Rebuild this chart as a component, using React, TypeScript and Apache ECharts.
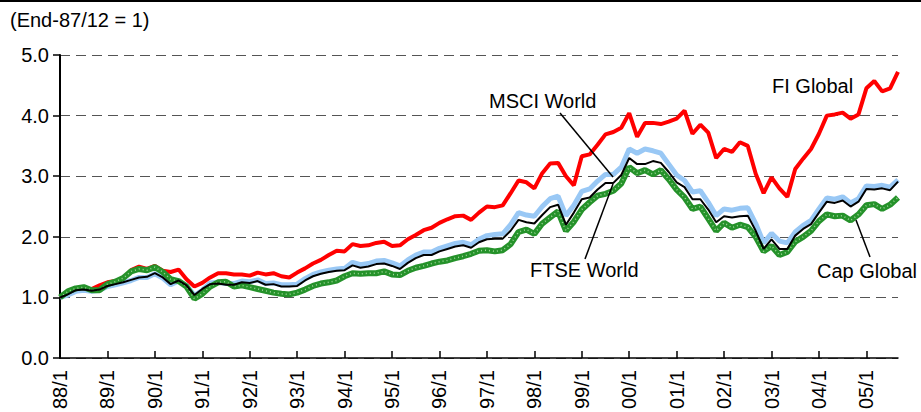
import React, { useEffect, useRef } from 'react';
import * as echarts from 'echarts';

// Bimonthly observations, 88/1 .. 05/9 (End-87/12 = 1)
const categories: string[] = [];
for (let i = 0; i < 107; i++) {
  const m = i * 2;
  const y = (88 + Math.floor(m / 12)) % 100;
  categories.push(`${String(y).padStart(2, '0')}/${(m % 12) + 1}`);
}

const ftseWorld = [
  1.00, 1.05, 1.12, 1.13, 1.11, 1.13, 1.19, 1.22, 1.25, 1.29, 1.33, 1.34, 1.40, 1.33, 1.22, 1.28, 1.20, 1.04, 1.14,
  1.22, 1.23, 1.21, 1.21, 1.25, 1.24, 1.27, 1.21, 1.22, 1.18, 1.18, 1.19, 1.28, 1.35, 1.39, 1.42, 1.44, 1.45,
  1.53, 1.49, 1.51, 1.55, 1.56, 1.52, 1.47, 1.57, 1.65, 1.70, 1.70, 1.76, 1.80, 1.84, 1.86, 1.82, 1.91, 1.96, 1.97,
  1.97, 2.10, 2.28, 2.24, 2.22, 2.36, 2.49, 2.53, 2.20, 2.40, 2.62, 2.65, 2.78, 2.89, 2.89, 3.02, 3.30,
  3.20, 3.20, 3.25, 3.22, 3.07, 2.90, 2.82, 2.62, 2.62, 2.45, 2.24, 2.34, 2.32, 2.34, 2.35, 2.10, 1.80, 1.96, 1.80, 1.80,
  2.02, 2.13, 2.21, 2.40, 2.58, 2.56, 2.60, 2.50, 2.58, 2.79, 2.78, 2.80, 2.77, 2.91,
];

const fiGlobal = [
  1.00, 1.05, 1.12, 1.14, 1.14, 1.20, 1.25, 1.27, 1.32, 1.45, 1.51, 1.47, 1.52, 1.44, 1.42, 1.46, 1.30, 1.18, 1.24,
  1.33, 1.40, 1.40, 1.38, 1.38, 1.36, 1.41, 1.38, 1.40, 1.35, 1.33, 1.41, 1.48, 1.56, 1.62, 1.70, 1.77, 1.76,
  1.88, 1.85, 1.86, 1.90, 1.92, 1.85, 1.86, 1.96, 2.03, 2.11, 2.15, 2.23, 2.29, 2.34, 2.35, 2.28, 2.40, 2.50, 2.49,
  2.52, 2.72, 2.93, 2.90, 2.80, 3.05, 3.21, 3.22, 3.00, 2.85, 3.33, 3.36, 3.52, 3.69, 3.73, 3.80, 4.04,
  3.65, 3.88, 3.88, 3.86, 3.90, 3.95, 4.08, 3.70, 3.85, 3.72, 3.30, 3.45, 3.40, 3.56, 3.50, 3.04, 2.72, 2.98, 2.80, 2.66,
  3.12, 3.29, 3.45, 3.70, 4.00, 4.02, 4.05, 3.95, 4.02, 4.45, 4.57, 4.40, 4.45, 4.72,
];

const capGlobal = [
  1.00, 1.10, 1.15, 1.17, 1.12, 1.12, 1.22, 1.26, 1.32, 1.43, 1.47, 1.45, 1.50, 1.42, 1.30, 1.27, 1.18, 0.98, 1.06,
  1.18, 1.25, 1.26, 1.18, 1.20, 1.17, 1.14, 1.11, 1.08, 1.06, 1.05, 1.08, 1.13, 1.19, 1.23, 1.25, 1.28, 1.35,
  1.40, 1.39, 1.40, 1.40, 1.43, 1.38, 1.37, 1.44, 1.49, 1.52, 1.56, 1.59, 1.61, 1.65, 1.68, 1.72, 1.77, 1.78, 1.76,
  1.78, 1.88, 2.08, 2.12, 2.05, 2.22, 2.32, 2.42, 2.10, 2.25, 2.45, 2.57, 2.68, 2.71, 2.76, 2.88, 3.15,
  3.05, 3.10, 3.03, 3.10, 2.95, 2.78, 2.65, 2.46, 2.50, 2.30, 2.10, 2.23, 2.15, 2.20, 2.16, 2.00, 1.76, 1.85, 1.70, 1.75,
  1.92, 2.00, 2.10, 2.26, 2.37, 2.34, 2.35, 2.27, 2.37, 2.52, 2.54, 2.46, 2.53, 2.65,
];

const msciWorld = [
  1.00, 1.04, 1.10, 1.12, 1.10, 1.12, 1.18, 1.21, 1.24, 1.28, 1.33, 1.33, 1.39, 1.32, 1.21, 1.27, 1.20, 1.03, 1.12,
  1.24, 1.25, 1.23, 1.23, 1.27, 1.26, 1.29, 1.23, 1.24, 1.21, 1.21, 1.22, 1.31, 1.38, 1.42, 1.45, 1.47, 1.48,
  1.58, 1.54, 1.56, 1.60, 1.61, 1.57, 1.52, 1.62, 1.70, 1.75, 1.75, 1.81, 1.85, 1.89, 1.91, 1.87, 1.96, 2.02, 2.04,
  2.05, 2.20, 2.40, 2.36, 2.34, 2.50, 2.63, 2.67, 2.35, 2.52, 2.75, 2.79, 2.92, 3.03, 3.03, 3.15, 3.45,
  3.38, 3.45, 3.42, 3.38, 3.20, 3.02, 2.93, 2.74, 2.76, 2.57, 2.35, 2.46, 2.44, 2.47, 2.48, 2.22, 1.90, 2.06, 1.93, 1.90,
  2.08, 2.19, 2.27, 2.46, 2.64, 2.62, 2.66, 2.56, 2.63, 2.84, 2.83, 2.85, 2.82, 2.94,
];

const yTicks = { min: 0, max: 5, interval: 1 };
const unitNote = '(End-87/12 = 1)';

const FONT = '"Liberation Sans", Arial, Helvetica, sans-serif';

export default function App() {
  const ref = useRef<HTMLDivElement>(null);
  useEffect(() => {
    if (!ref.current) return;
    const chart = echarts.init(ref.current, undefined, { renderer: 'svg' });
    const txt = (text: string, x: number, y: number) => ({
      type: 'text',
      x,
      y,
      style: { text, fill: '#000', font: `20px ${FONT}`, textVerticalAlign: 'middle' },
      z: 100,
    });
    const ln = (x1: number, y1: number, x2: number, y2: number) => ({
      type: 'line',
      shape: { x1, y1, x2, y2 },
      style: { stroke: '#000', lineWidth: 1.5 },
      z: 100,
    });
    chart.setOption({
      animation: false,
      backgroundColor: '#fff',
      grid: { left: 60, right: 23, top: 55, bottom: 50 },
      xAxis: {
        type: 'category',
        data: categories,
        boundaryGap: false,
        axisLine: { lineStyle: { color: '#000', width: 1.5 } },
        axisTick: { show: true, inside: true, length: 7, interval: 5, lineStyle: { color: '#000', width: 1.5 } },
        axisLabel: { interval: 5, rotate: 90, fontSize: 20, color: '#000', margin: 12, fontFamily: FONT },
        splitLine: { show: false },
      },
      yAxis: {
        type: 'value',
        min: yTicks.min,
        max: yTicks.max,
        interval: yTicks.interval,
        axisLine: { show: true, lineStyle: { color: '#000', width: 2 } },
        axisTick: { show: true, length: 7, lineStyle: { color: '#000', width: 1.5 } },
        axisLabel: {
          fontSize: 20,
          color: '#000',
          margin: 11,
          fontFamily: FONT,
          formatter: (v: number) => v.toFixed(1),
        },
        splitLine: { show: true, lineStyle: { color: '#555', width: 1, type: [10, 6] } },
      },
      series: [
        {
          name: 'FI Global', type: 'line', data: fiGlobal, showSymbol: false,
          lineStyle: { color: '#ff0000', width: 4 }, z: 2,
        },
        {
          name: 'MSCI World', type: 'line', data: msciWorld, showSymbol: false,
          lineStyle: { color: '#99c8f5', width: 5 }, z: 3,
        },
        {
          name: 'Cap Global', type: 'line', data: capGlobal, showSymbol: false,
          lineStyle: { color: '#25922a', width: 6 }, z: 4,
        },
        {
          name: 'Cap Global texture', type: 'line', data: capGlobal, showSymbol: false,
          lineStyle: { color: '#9fd89a', width: 1.5, type: [1, 3] }, z: 5,
        },
        {
          name: 'FTSE World', type: 'line', data: ftseWorld, showSymbol: false,
          lineStyle: { color: '#000', width: 2 }, z: 6,
        },
      ],
      graphic: [
        { type: 'line', shape: { x1: 0, y1: 1, x2: 921, y2: 1 }, style: { stroke: '#000', lineWidth: 2 }, z: 100 },
        txt(unitNote, 10, 20),
        txt('MSCI World', 489, 101),
        ln(560, 113, 613, 177),
        txt('FTSE World', 530, 270),
        ln(585, 259, 613, 184),
        txt('FI Global', 772, 86),
        txt('Cap Global', 817, 271),
        ln(856, 220, 870, 257),
      ],
    });
    return () => chart.dispose();
  }, []);
  return <div ref={ref} style={{ position: 'absolute', left: 0, top: 0, width: 921, height: 412 }} />;
}
